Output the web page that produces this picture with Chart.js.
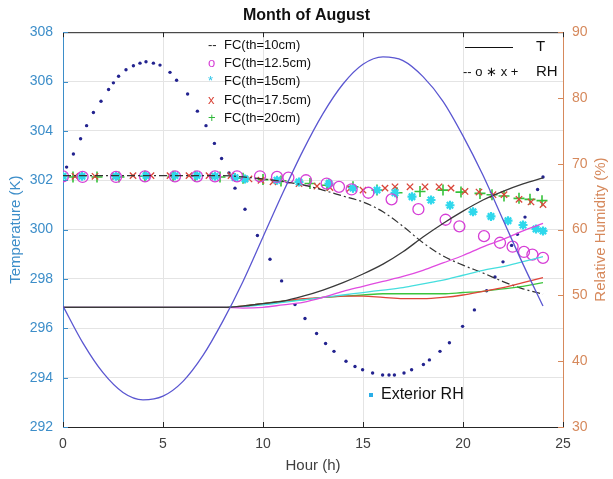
<!DOCTYPE html>
<html>
<head>
<meta charset="utf-8">
<script src="https://cdn.jsdelivr.net/npm/chart.js@4.4.1/dist/chart.umd.min.js"></script>
<style>
  body { margin: 0; background: #fff; }
</style>
</head>
<body>
<canvas id="augChart" width="613" height="479"></canvas>
<script>
// temperatures (K), hourly
const hours = [0, 1, 2, 3, 4, 5, 6, 7, 8, 9, 10, 11, 12, 13, 14, 15, 16, 17, 18, 19, 20, 21, 22, 23, 24];
const extTemp = [296.9, 295.4, 294.2, 293.4, 293.1, 293.25, 293.85, 294.9, 296.3, 297.9, 299.7, 301.5, 303.2, 304.7, 305.9, 306.7, 307.0, 306.85, 306.2, 305.2, 303.8, 302.2, 300.4, 298.6, 296.9];
const tempTh10 = [296.85, 296.85, 296.85, 296.85, 296.85, 296.85, 296.85, 296.85, 296.85, 296.9, 297.0, 297.1, 297.3, 297.55, 297.85, 298.2, 298.6, 299.1, 299.7, 300.25, 300.75, 301.2, 301.55, 301.85, 302.1];
const tempTh125 = [296.85, 296.85, 296.85, 296.85, 296.85, 296.85, 296.85, 296.85, 296.85, 296.82, 296.85, 296.95, 297.05, 297.25, 297.5, 297.7, 297.9, 298.1, 298.35, 298.65, 298.95, 299.3, 299.6, 299.95, 300.25];
const tempTh15 = [296.85, 296.85, 296.85, 296.85, 296.85, 296.85, 296.85, 296.85, 296.85, 296.88, 296.95, 297.05, 297.15, 297.25, 297.35, 297.45, 297.55, 297.65, 297.8, 297.95, 298.15, 298.35, 298.5, 298.7, 298.9];
const tempTh175 = [296.85, 296.85, 296.85, 296.85, 296.85, 296.85, 296.85, 296.85, 296.85, 296.9, 297.0, 297.1, 297.2, 297.25, 297.3, 297.3, 297.25, 297.2, 297.2, 297.25, 297.35, 297.5, 297.65, 297.85, 298.05];
const tempTh20 = [296.85, 296.85, 296.85, 296.85, 296.85, 296.85, 296.85, 296.85, 296.85, 296.9, 297.0, 297.1, 297.15, 297.25, 297.3, 297.35, 297.4, 297.4, 297.4, 297.4, 297.45, 297.5, 297.6, 297.7, 297.85];

// relative humidity (%)
const rhTh10 = [68.2, 68.2, 68.2, 68.2, 68.2, 68.2, 68.2, 68.2, 68.2, 68.0, 67.7, 67.3, 66.8, 66.0, 65.1, 64.2, 62.7, 60.5, 58.0, 56.0, 54.6, 53.4, 52.1, 51.0, 50.2];

const rh125Hours = [0, 0.98, 2.65, 4.1, 5.6, 6.7, 7.6, 8.7, 9.85, 10.7, 11.27, 12.15, 13.18, 13.8, 14.43, 15.27, 16.43, 17.77, 19.13, 19.82, 21.05, 21.85, 22.48, 23.05, 23.47, 24.0];
const rh125 = [68.1, 68.0, 68.0, 68.1, 68.1, 68.1, 68.1, 68.1, 68.1, 68.0, 67.9, 67.5, 67.0, 66.5, 66.1, 65.6, 64.6, 63.1, 61.5, 60.5, 59.0, 58.0, 57.4, 56.6, 56.2, 55.7];

const rh15Hours = [0, 0.95, 2.65, 4.15, 5.6, 6.7, 7.6, 8.6, 9.1, 10.7, 11.8, 13.3, 14.5, 15.7, 16.6, 17.45, 18.4, 19.35, 20.5, 21.4, 22.25, 23.0, 23.65, 24.0];
const rh15 = [68.1, 68.1, 68.1, 68.2, 68.2, 68.2, 68.1, 67.9, 67.7, 67.5, 67.25, 67.0, 66.3, 66.0, 65.6, 65.0, 64.5, 63.7, 62.7, 62.0, 61.35, 60.7, 60.1, 59.8];

const rh175Hours = [0, 0.6, 1.6, 2.6, 3.5, 4.4, 5.35, 6.3, 7.3, 8.4, 9.3, 9.9, 10.5, 11.8, 12.7, 13.35, 14.35, 15.0, 16.1, 16.6, 17.35, 18.1, 18.8, 19.4, 20.1, 20.8, 21.5, 22.05, 22.8, 23.4, 24.0];
const rh175 = [68.1, 68.1, 68.1, 68.1, 68.2, 68.2, 68.2, 68.2, 68.2, 68.2, 67.7, 67.5, 67.25, 67.0, 66.6, 66.4, 66.25, 66.0, 66.3, 66.5, 66.5, 66.5, 66.5, 66.3, 65.8, 65.7, 65.3, 65.3, 64.6, 64.2, 63.8];

const rh20Hours = [0.5, 1.7, 2.8, 4.1, 5.5, 6.6, 7.85, 9.0, 10.0, 10.9, 12.35, 13.2, 14.5, 15.7, 16.7, 17.85, 19.0, 19.9, 20.85, 21.45, 22.05, 22.8, 23.35, 23.95];
const rh20 = [68.0, 68.0, 68.0, 68.1, 68.1, 68.1, 68.0, 67.8, 67.6, 67.4, 67.0, 66.75, 66.5, 66.0, 65.6, 65.8, 66.0, 65.7, 65.5, 65.3, 65.1, 64.75, 64.6, 64.4];

const extRhHours = [0.18, 0.52, 0.88, 1.18, 1.52, 1.9, 2.28, 2.52, 2.78, 3.15, 3.52, 3.85, 4.15, 4.52, 4.85, 5.35, 5.68, 6.23, 6.72, 7.15, 7.57, 7.93, 8.3, 8.6, 9.1, 9.72, 10.35, 10.93, 11.6, 12.1, 12.68, 13.13, 13.55, 14.15, 14.6, 14.98, 15.48, 15.98, 16.3, 16.57, 17.05, 17.43, 18.02, 18.32, 18.85, 19.32, 19.98, 20.57, 21.18, 21.6, 22.0, 22.43, 22.72, 23.1, 23.73, 24.0];
const extRh = [69.5, 71.5, 73.8, 75.8, 77.8, 79.5, 81.3, 82.3, 83.3, 84.3, 84.9, 85.3, 85.5, 85.3, 85.0, 83.9, 82.7, 80.6, 78.0, 75.8, 73.1, 70.8, 68.6, 66.3, 63.1, 59.1, 55.5, 52.2, 48.6, 46.5, 44.2, 42.7, 41.5, 40.0, 39.2, 38.7, 38.2, 37.9, 37.9, 37.9, 38.2, 38.7, 39.5, 40.2, 41.5, 42.8, 45.3, 47.8, 50.7, 52.8, 55.1, 57.6, 59.3, 61.9, 66.1, 68.0];

const tempColor = "#3d8ec9";
const rhColor = "#d6895c";
const font = "Liberation Sans, Arial, sans-serif";

const pts = (xs, ys) => xs.map((x, i) => ({ x: x, y: ys[i] }));

function tempLine(data, color) {
  return {
    data: pts(hours, data),
    yAxisID: "yT",
    showLine: true,
    borderColor: color,
    borderWidth: 1.3,
    pointRadius: 0,
    cubicInterpolationMode: "monotone",
  };
}

function rhMarkers(xs, ys, style, color, r, w) {
  return {
    data: pts(xs, ys),
    yAxisID: "yRH",
    showLine: false,
    pointStyle: style,
    pointRadius: r,
    borderColor: color,
    backgroundColor: "rgba(0,0,0,0)",
    pointBorderWidth: w,
  };
}

// legends, inward ticks, top border and right axis title
const extras = {
  id: "extras",
  afterDraw(chart) {
    const ctx = chart.ctx;
    const a = chart.chartArea;
    const sx = chart.scales.x, sT = chart.scales.yT, sR = chart.scales.yRH;
    ctx.save();

    ctx.strokeStyle = "#262626";
    ctx.lineWidth = 1;
    ctx.beginPath();
    ctx.moveTo(a.left, a.top + 0.5);
    ctx.lineTo(a.right, a.top + 0.5);
    ctx.stroke();

    ctx.beginPath();
    for (let v = 0; v <= 25; v += 5) {
      let px = Math.round(sx.getPixelForValue(v)) + 0.5;
      ctx.moveTo(px, a.bottom); ctx.lineTo(px, a.bottom - 5);
      ctx.moveTo(px, a.top); ctx.lineTo(px, a.top + 5);
    }
    ctx.stroke();
    ctx.strokeStyle = tempColor;
    ctx.beginPath();
    for (let v = 292; v <= 308; v += 2) {
      let py = Math.round(sT.getPixelForValue(v)) + 0.5;
      ctx.moveTo(a.left, py); ctx.lineTo(a.left + 5, py);
    }
    ctx.stroke();
    ctx.strokeStyle = rhColor;
    ctx.beginPath();
    for (let v = 30; v <= 90; v += 10) {
      let py = Math.round(sR.getPixelForValue(v)) + 0.5;
      ctx.moveTo(a.right, py); ctx.lineTo(a.right - 5, py);
    }
    ctx.stroke();

    // right axis title, reading upward like MATLAB
    ctx.save();
    ctx.translate(601, (a.top + a.bottom) / 2);
    ctx.rotate(-Math.PI / 2);
    ctx.fillStyle = rhColor;
    ctx.font = "15px " + font;
    ctx.textAlign = "center";
    ctx.textBaseline = "middle";
    ctx.fillText("Relative Humidity (%)", 0, 0);
    ctx.restore();

    // legend of the FC cases
    ctx.font = "13px " + font;
    ctx.textBaseline = "middle";
    ctx.textAlign = "left";
    const rows = [
      ["--", "#222", "FC(th=10cm)"],
      ["o", "#d63fd6", "FC(th=12.5cm)"],
      ["*", "#2bc4e8", "FC(th=15cm)"],
      ["x", "#d9463a", "FC(th=17.5cm)"],
      ["+", "#2fb83a", "FC(th=20cm)"],
    ];
    rows.forEach((r, i) => {
      let y = 45 + i * 18.4;
      ctx.fillStyle = r[1];
      ctx.fillText(r[0], 208, y);
      ctx.fillStyle = "#111";
      ctx.fillText(r[2], 224, y);
    });

    // T / RH legend
    ctx.strokeStyle = "#111";
    ctx.lineWidth = 1.2;
    ctx.beginPath();
    ctx.moveTo(465, 47.5);
    ctx.lineTo(513, 47.5);
    ctx.stroke();
    ctx.fillStyle = "#111";
    ctx.font = "15px " + font;
    ctx.fillText("T", 536, 47);
    ctx.font = "13px " + font;
    ctx.fillText("-- o \u2217 x +", 463, 72);
    ctx.font = "15px " + font;
    ctx.fillText("RH", 536, 72);

    // exterior RH legend
    ctx.fillStyle = "#2aaee8";
    ctx.fillRect(369, 393, 4, 4);
    ctx.fillStyle = "#111";
    ctx.font = "16px " + font;
    ctx.fillText("Exterior RH", 381, 395);

    ctx.restore();
  },
};

new Chart("augChart", {
  type: "scatter",
  data: {
    datasets: [
      tempLine(extTemp, "#5b57d1"),
      tempLine(tempTh10, "#3a3a3a"),
      tempLine(tempTh125, "#e04be0"),
      tempLine(tempTh15, "#45dede"),
      tempLine(tempTh175, "#e0453a"),
      tempLine(tempTh20, "#3cc43c"),
      {
        data: pts(hours, rhTh10),
        yAxisID: "yRH",
        showLine: true,
        borderColor: "#333",
        borderWidth: 1.2,
        borderDash: [8, 3, 2, 3],
        pointRadius: 0,
        cubicInterpolationMode: "monotone",
      },
      rhMarkers(rh125Hours, rh125, "circle", "#d63fd6", 5.5, 1.3),
      rhMarkers(rh15Hours, rh15, "star", "#2fd8ec", 4.5, 2.2),
      rhMarkers(rh175Hours, rh175, "crossRot", "#d9463a", 4.5, 1.3),
      rhMarkers(rh20Hours, rh20, "cross", "#35c23a", 5.5, 1.6),
      {
        data: pts(extRhHours, extRh),
        yAxisID: "yRH",
        showLine: false,
        pointStyle: "circle",
        pointRadius: 1.7,
        pointBorderWidth: 0,
        backgroundColor: "#23238f",
      },
    ],
  },
  options: {
    responsive: false,
    animation: false,
    layout: { padding: 0 },
    plugins: {
      legend: { display: false },
      tooltip: { enabled: false },
      title: {
        display: true,
        text: "Month of August",
        color: "#111",
        font: { family: font, size: 16, weight: "bold" },
        padding: { top: 6, bottom: 7 },
      },
    },
    scales: {
      x: {
        type: "linear",
        min: 0,
        max: 25,
        ticks: { stepSize: 5, color: "#404040", padding: 9, font: { family: font, size: 14 } },
        grid: { color: "#e4e4e4", drawTicks: false },
        border: { color: "#262626" },
        title: { display: true, text: "Hour (h)", color: "#404040", font: { family: font, size: 15 }, padding: { top: 4, bottom: 4 } },
        afterFit: (s) => { s.height = 52; },
      },
      yT: {
        position: "left",
        min: 292,
        max: 308,
        ticks: { stepSize: 2, color: tempColor, padding: 10, font: { family: font, size: 14 } },
        grid: { color: "#e4e4e4", drawTicks: false },
        border: { color: tempColor },
        title: { display: true, text: "Temperature (K)", color: tempColor, font: { family: font, size: 15 }, padding: { top: 7, bottom: 4 } },
        afterFit: (s) => { s.width = 63; },
      },
      yRH: {
        position: "right",
        min: 30,
        max: 90,
        ticks: { stepSize: 10, color: rhColor, padding: 9, font: { family: font, size: 14 } },
        grid: { drawOnChartArea: false, drawTicks: false },
        border: { color: rhColor },
        afterFit: (s) => { s.width = 50; },
      },
    },
  },
  plugins: [extras],
});
</script>
</body>
</html>
